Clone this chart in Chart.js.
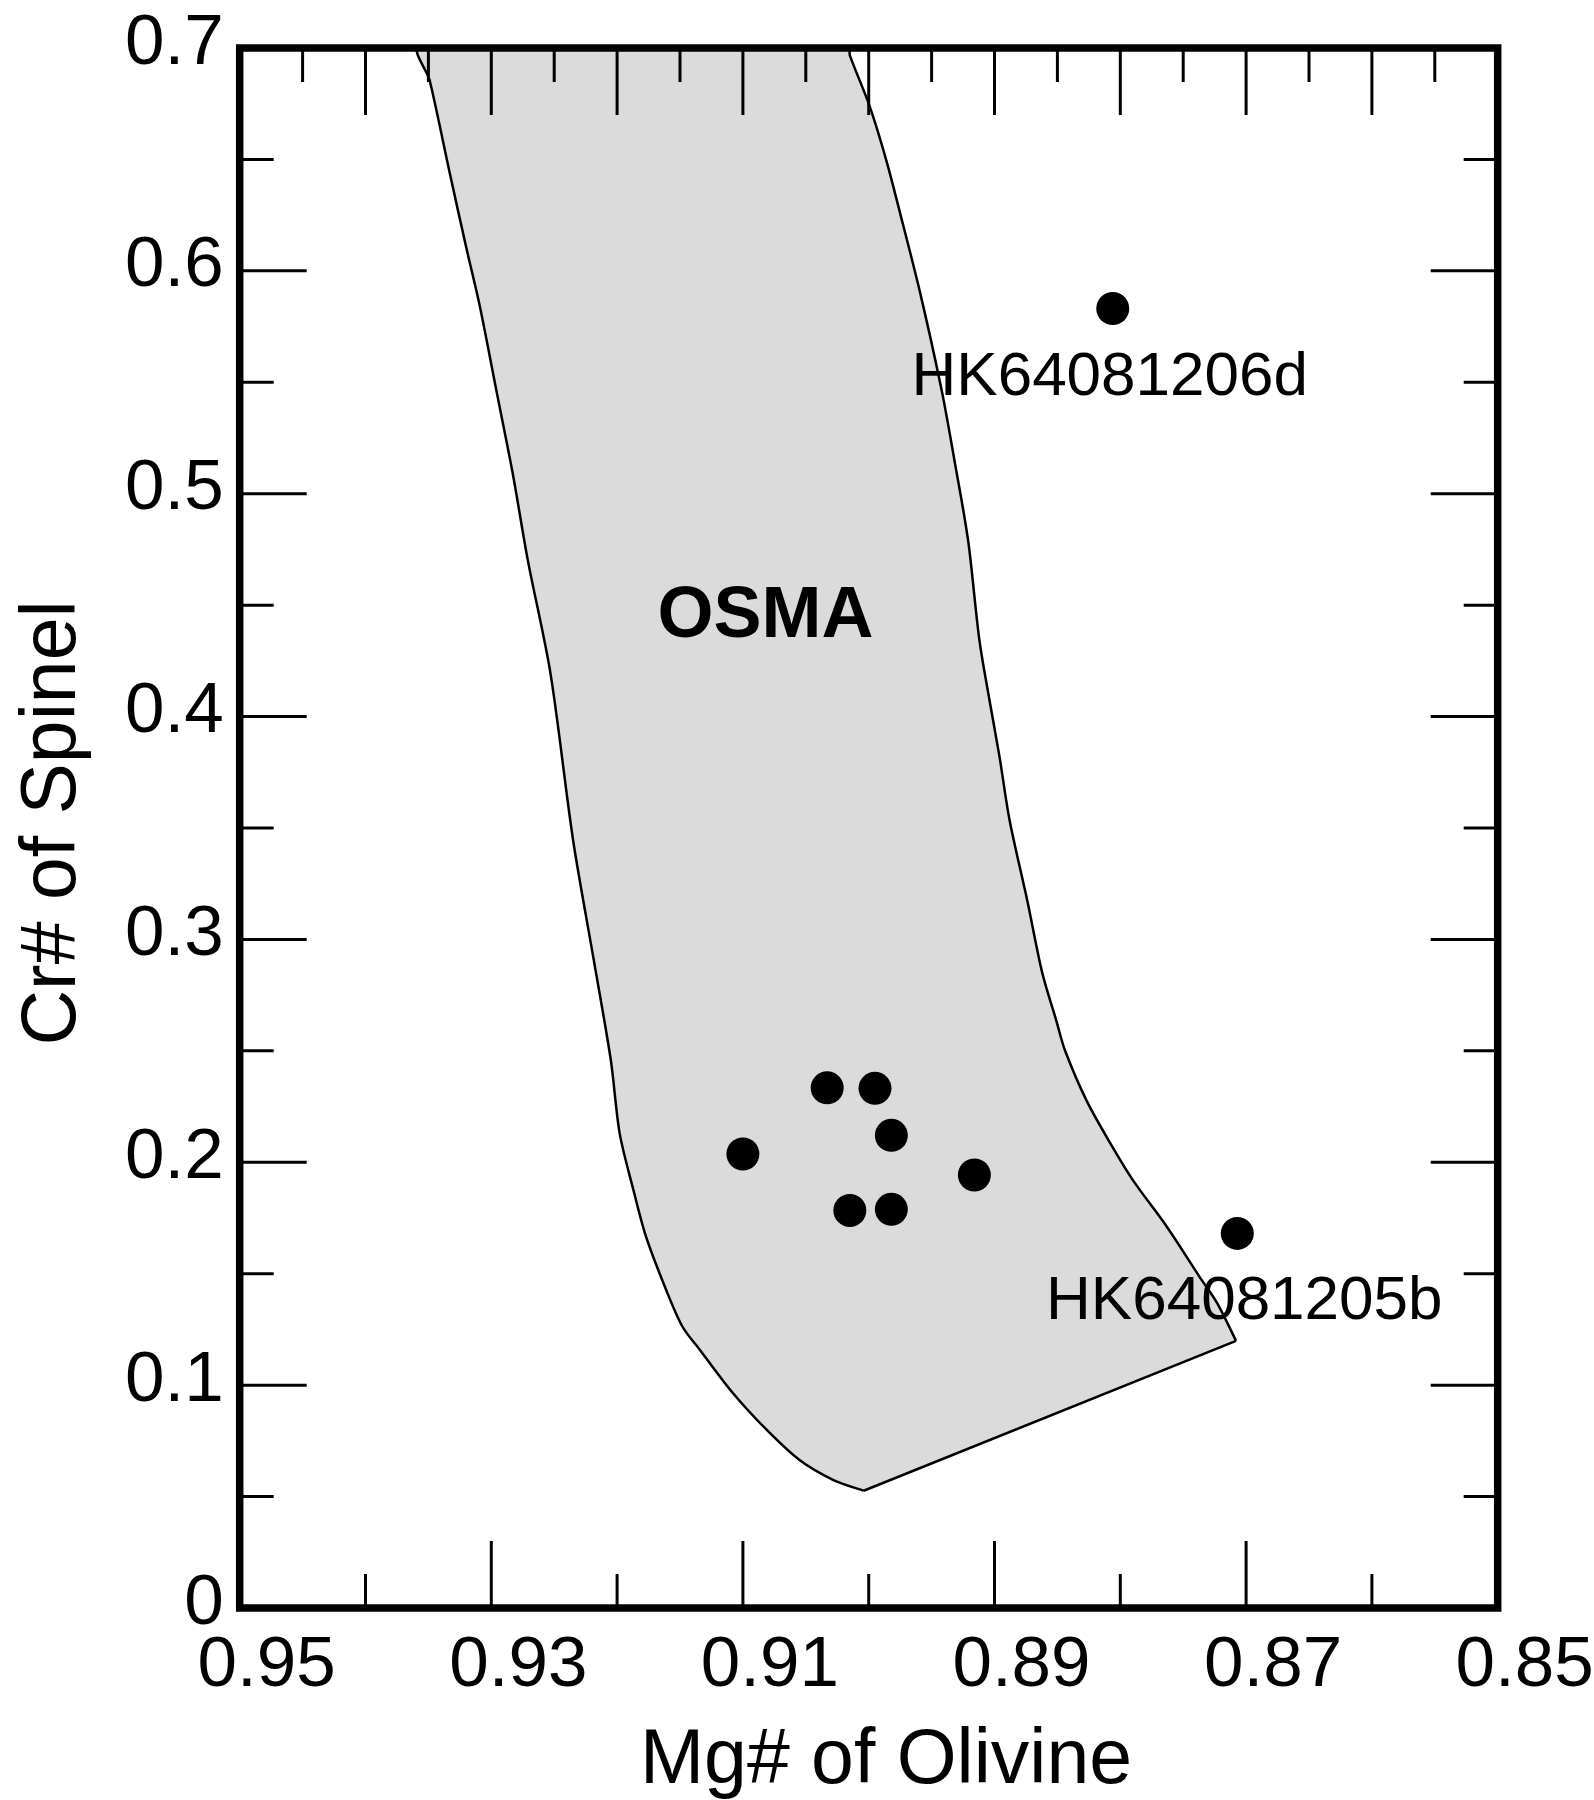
<!DOCTYPE html>
<html>
<head>
<meta charset="UTF-8">
<title>Cr# of Spinel vs Mg# of Olivine</title>
<style>
  html, body { margin: 0; padding: 0; background: #fff; }
  #wrap { width: 1594px; height: 1800px; position: relative; }
</style>
</head>
<body>
<div id="wrap"><canvas id="grafico"></canvas></div>

<script src="https://cdn.jsdelivr.net/npm/chart.js"></script>
<script>
// OSMA field: curved part, from the lower-right corner up the right edge,
// along the top and down the left edge to the lowest corner
const osmaMg = [0.8708, 0.8723, 0.8737, 0.8763, 0.8790, 0.8808, 0.8827, 0.8844, 0.8851, 0.8862,
                0.8874, 0.8888, 0.8896, 0.8904, 0.8912, 0.8921, 0.8932, 0.8942, 0.8959, 0.8975,
                0.8986, 0.8999, 0.9015, 0.9016, 0.9357, 0.9349, 0.9333, 0.9320, 0.9309, 0.9296,
                0.9283, 0.9271, 0.9253, 0.9235, 0.9219, 0.9205, 0.9198, 0.9187, 0.9177, 0.9161,
                0.9148, 0.9134, 0.9108, 0.9081, 0.9055, 0.9028, 0.9004];
const osmaCr = [0.1199, 0.1368, 0.1486, 0.1711, 0.1920, 0.2086, 0.2279, 0.2503, 0.2638, 0.2849,
                0.3176, 0.3535, 0.3819, 0.4074, 0.4343, 0.4791, 0.5155, 0.5464, 0.5899, 0.6258,
                0.6496, 0.6735, 0.6967, 0.700, 0.700, 0.6855, 0.6438, 0.6107, 0.5838, 0.5464,
                0.5092, 0.4702, 0.4195, 0.3446, 0.2922, 0.2459, 0.2131, 0.1875, 0.1666, 0.1427,
                0.1262, 0.1157, 0.0965, 0.0799, 0.0664, 0.0574, 0.0526];
// straight lower edge of the field
const baseMg = [0.9004, 0.8708];
const baseCr = [0.0526, 0.1199];

// samples
const sampleMg = [0.9100, 0.9033, 0.8995, 0.8982, 0.8916, 0.9015, 0.8982, 0.8806, 0.8707];
const sampleCr = [0.2037, 0.2334, 0.2332, 0.2121, 0.1943, 0.1784, 0.1789, 0.5831, 0.1681];
const sampleNames = ['', '', '', '', '', '', '', 'HK64081206d', 'HK64081205b'];

// axes
const mgTicks = [0.95, 0.93, 0.91, 0.89, 0.87, 0.85];
const crTicks = [0, 0.1, 0.2, 0.3, 0.4, 0.5, 0.6, 0.7];
const bottomMajor = [0.93, 0.91, 0.89, 0.87];
const bottomMinor = [0.94, 0.92, 0.90, 0.88, 0.86];
const topMajor = [0.94, 0.93, 0.92, 0.91, 0.90, 0.89, 0.88, 0.87, 0.86];
const topMinor = [0.945, 0.935, 0.925, 0.915, 0.905, 0.895, 0.885, 0.875, 0.865, 0.855];
const sideMajor = [0.1, 0.2, 0.3, 0.4, 0.5, 0.6];
const sideMinor = [0.05, 0.15, 0.25, 0.35, 0.45, 0.55, 0.65];

const FONT = "'Liberation Sans', Arial, Helvetica, sans-serif";
const MAJOR = 67, MINOR = 34;
const fieldLabel = { text: 'OSMA', mg: 0.9082, cr: 0.4358 };
const nameShift = { HK64081206d: -3, HK64081205b: 7 };

const pontos = sampleMg.map((mg, i) => ({ x: mg, y: sampleCr[i] }));
const contorno = osmaMg.map((mg, i) => ({ x: mg, y: osmaCr[i] }));
const base = baseMg.map((mg, i) => ({ x: mg, y: baseCr[i] }));

const moldura = {
    id: 'moldura',
    afterDatasetsDraw(chart) {
        const { ctx, chartArea: a, scales: { x, y } } = chart;
        ctx.save();
        ctx.strokeStyle = '#000';
        ctx.fillStyle = '#000';

        // inward tick marks on all four sides
        ctx.lineWidth = 3;
        const seg = (x1, y1, x2, y2) => { ctx.beginPath(); ctx.moveTo(x1, y1); ctx.lineTo(x2, y2); ctx.stroke(); };
        bottomMajor.forEach(v => { const p = x.getPixelForValue(v); seg(p, a.bottom, p, a.bottom - MAJOR); });
        bottomMinor.forEach(v => { const p = x.getPixelForValue(v); seg(p, a.bottom, p, a.bottom - MINOR); });
        topMajor.forEach(v => { const p = x.getPixelForValue(v); seg(p, a.top, p, a.top + MAJOR); });
        topMinor.forEach(v => { const p = x.getPixelForValue(v); seg(p, a.top, p, a.top + MINOR); });
        sideMajor.forEach(v => {
            const p = y.getPixelForValue(v);
            seg(a.left, p, a.left + MAJOR, p);
            seg(a.right, p, a.right - MAJOR, p);
        });
        sideMinor.forEach(v => {
            const p = y.getPixelForValue(v);
            seg(a.left, p, a.left + MINOR, p);
            seg(a.right, p, a.right - MINOR, p);
        });

        // frame
        ctx.lineWidth = 7.5;
        ctx.lineJoin = 'miter';
        ctx.strokeRect(a.left, a.top, a.right - a.left, a.bottom - a.top);

        // field name
        ctx.textAlign = 'center';
        ctx.textBaseline = 'alphabetic';
        ctx.font = 'bold 72px ' + FONT;
        ctx.fillText(fieldLabel.text, x.getPixelForValue(fieldLabel.mg), y.getPixelForValue(fieldLabel.cr));

        // sample names under their points
        ctx.font = '62px ' + FONT;
        sampleNames.forEach((nome, i) => {
            if (!nome) return;
            const px = x.getPixelForValue(sampleMg[i]) + (nameShift[nome] || 0);
            const py = y.getPixelForValue(sampleCr[i]) + 86;
            ctx.fillText(nome, px, py);
        });

        // axis titles
        ctx.font = '77px ' + FONT;
        ctx.fillText('Mg# of Olivine', 886, 1783);
        ctx.translate(75, 823);
        ctx.rotate(-Math.PI / 2);
        ctx.fillText('Cr# of Spinel', 0, 0);
        ctx.restore();
    }
};

new Chart(document.getElementById('grafico'), {
    type: 'scatter',
    data: {
        datasets: [
            {
                label: 'samples',
                data: pontos,
                backgroundColor: '#000',
                borderWidth: 0,
                pointRadius: 16.5,
                pointHoverRadius: 16.5
            },
            {
                label: 'OSMA base',
                data: base,
                showLine: true,
                fill: false,
                borderColor: '#000',
                borderWidth: 2.5,
                tension: 0,
                pointRadius: 0,
                pointHoverRadius: 0
            },
            {
                label: 'OSMA',
                data: contorno,
                showLine: true,
                fill: 'shape',
                backgroundColor: '#dbdbdb',
                borderColor: '#000',
                borderWidth: 2.5,
                tension: 0.3,
                pointRadius: 0,
                pointHoverRadius: 0
            }
        ]
    },
    options: {
        responsive: true,
        maintainAspectRatio: false,
        animation: false,
        layout: { padding: { left: 0, top: 48, right: 96.3, bottom: 0 } },
        plugins: {
            legend: { display: false },
            tooltip: { enabled: false }
        },
        scales: {
            x: {
                type: 'linear',
                position: 'bottom',
                reverse: true,
                min: 0.85,
                max: 0.95,
                afterFit: s => {
                    s.height = 192;
                    s.paddingLeft = 0;
                    s.paddingRight = 0;
                },
                afterBuildTicks: s => { s.ticks = mgTicks.map(v => ({ value: v })); },
                grid: { display: false, drawTicks: false },
                border: { display: false },
                ticks: {
                    autoSkip: false,
                    maxRotation: 0,
                    padding: 16,
                    labelOffset: 27,
                    color: '#000',
                    font: { family: FONT, size: 71 },
                    callback: v => v.toFixed(2)
                }
            },
            y: {
                type: 'linear',
                position: 'left',
                min: 0,
                max: 0.7,
                afterFit: s => {
                    s.width = 239.7;
                    s.paddingTop = 0;
                    s.paddingBottom = 0;
                },
                afterBuildTicks: s => { s.ticks = crTicks.map(v => ({ value: v })); },
                grid: { display: false, drawTicks: false },
                border: { display: false },
                ticks: {
                    autoSkip: false,
                    padding: 16,
                    labelOffset: -4,
                    color: '#000',
                    font: { family: FONT, size: 71 },
                    callback: v => v === 0 ? '0' : v.toFixed(1)
                }
            }
        }
    },
    plugins: [moldura]
});
</script>
</body>
</html>
